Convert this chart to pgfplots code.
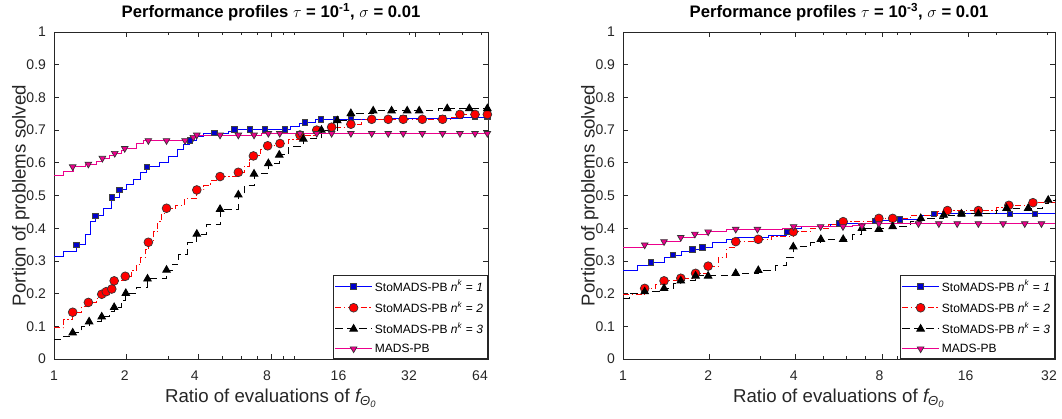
\documentclass[border=0pt]{standalone}
\usepackage{fontspec}
\setmainfont{Liberation Sans}
\usepackage{amsmath}
\usepackage{pgfplots}
\pgfplotsset{compat=1.18}

\definecolor{axgray}{rgb}{0.15,0.15,0.15}
\definecolor{sqfill}{rgb}{0,0,0.8}

% tick label nudged left by #1/2 (the labels sit a little left of their ticks)
\newcommand{\tl}[2]{\hbox to 0pt{\hss\kern#1\relax #2\hss}}

\pgfplotsset{
  serA/.style={blue, line width=0.7pt, mark=square*, mark size=2.1pt,
    mark options={solid, fill=sqfill, draw=black!75, line width=0.5pt}},
  serB/.style={red, line width=0.7pt, dash pattern=on 4.5pt off 2pt on 1pt off 2pt,
    mark=*, mark size=3.3pt, mark options={solid, fill=red, draw=black!80, line width=0.5pt}},
  serC/.style={black, line width=0.7pt, dash pattern=on 5.5pt off 3.5pt,
    mark=triangle*, mark size=3.2pt, mark options={solid, fill=black}},
  serD/.style={magenta, line width=0.7pt, mark=triangle*, mark size=2.9pt,
    mark options={solid, rotate=180, fill=magenta, draw=black!80, line width=0.5pt}},
}

\newcommand{\legs}{%
  \addlegendimage{serA}\addlegendentry{StoMADS-PB \textit{n}\textsuperscript{\textit{k}} = \textit{1}}
  \addlegendimage{serB}\addlegendentry{StoMADS-PB \textit{n}\textsuperscript{\textit{k}} = \textit{2}}
  \addlegendimage{serC}\addlegendentry{StoMADS-PB \textit{n}\textsuperscript{\textit{k}} = \textit{3}}
  \addlegendimage{serD}\addlegendentry{MADS-PB}
}

\begin{document}
\begin{tikzpicture}
\useasboundingbox (-40.5pt,-44.25pt) rectangle (756pt,269.25pt);
\pgfplotsset{
  every axis/.append style={
    scale only axis, width=325.5pt, height=245.25pt,
    xmode=log, log basis x=2,
    xmin=1, ymin=0, ymax=1,
    ytick={0,0.1,0.2,0.3,0.4,0.5,0.6,0.7,0.8,0.9,1},
    yticklabels={0,0.1,0.2,0.3,0.4,0.5,0.6,0.7,0.8,0.9,1},
    /pgf/number format/assume math mode=true,
    tick align=inside, major tick length=4pt,
    extra x tick labels={}, extra x tick style={major tick length=2.2pt},
    axis line style={axgray, line width=0.5pt},
    every tick/.style={axgray, line width=0.5pt},
    tick label style={font=\fontsize{10.5}{12}\selectfont, text=axgray},
    xticklabel style={yshift=-5.5pt},
    yticklabel style={xshift=-2.5pt},
    title style={font=\bfseries\fontsize{12.5}{14}\selectfont,
      at={(axis description cs:0.5,1)}, anchor=base, yshift=5pt},
    xlabel style={font=\fontsize{14}{16}\selectfont, text=axgray,
      at={(axis description cs:0.5,0)}, anchor=north, yshift=-18.8pt},
    ylabel style={font=\fontsize{14}{16}\selectfont, text=axgray,
      at={(axis description cs:-0.0457,0.5)}, rotate=0, anchor=south},
    xlabel={Ratio of evaluations of $\text{\itshape f}_{\text{\itshape Θ}_{\text{\itshape 0}}}$},
    ylabel={Portion of problems solved},
    legend style={at={(1,0)}, anchor=south east, draw=axgray, line width=0.5pt,
      font=\fontsize{9}{10.5}\selectfont, inner sep=1.5pt, row sep=2.2pt},
    legend cell align=left,
    legend image code/.code={\draw[mark repeat=2,mark phase=2]
      plot coordinates {(0cm,0cm) (0.48cm,0cm) (0.96cm,0cm)};},
    clip=false,
  },
}

% ---------------- left: tau = 1e-1
\begin{axis}[at={(0,0)}, anchor=south west,
  xmax=64,
  xtick={1,2,4,8,16,32,64},
  xticklabels={1,\tl{-2.4pt}{2},\tl{-6pt}{4},\tl{-6pt}{8},\tl{-7.2pt}{16},\tl{-10pt}{32},\tl{-12pt}{64}},
  extra x ticks={3,5,6,7,9,10,20,30,40,50,60},
  title={Performance profiles $\tau$ = 10$^{\textbf{-1}}$, $\sigma$ = 0.01}]
\legs
\addplot[serA, const plot, no marks, forget plot] table {
x y
1 0.315
1.1 0.33
1.24 0.349
1.35 0.38
1.42 0.42
1.49 0.438
1.6 0.46
1.74 0.494
1.87 0.517
2.0 0.535
2.15 0.55
2.3 0.57
2.43 0.588
2.75 0.6
3.0 0.62
3.25 0.64
3.45 0.655
3.68 0.668
3.9 0.68
4.2 0.69
5.3 0.697
5.63 0.702
9.6 0.71
10.5 0.72
11.08 0.724
12.3 0.733
24 0.737
50 0.74
64 0.74
};
\addplot[serA, only marks, forget plot] table {
x y
1.24 0.349
1.49 0.438
1.74 0.494
1.87 0.517
2.43 0.588
3.68 0.668
4.65 0.692
5.63 0.702
6.54 0.702
7.55 0.702
9.14 0.702
11.08 0.724
12.9 0.733
14.9 0.733
17.2 0.733
21 0.735
28.4 0.737
41.4 0.737
56.5 0.74
63.6 0.74
};
\addplot[serB, const plot, no marks, forget plot] table {
x y
1 0.096
1.1 0.12
1.196 0.143
1.3 0.16
1.39 0.173
1.5 0.185
1.58 0.198
1.65 0.206
1.74 0.214
1.78 0.239
1.98 0.253
2.1 0.27
2.2 0.29
2.3 0.31
2.4 0.335
2.47 0.357
2.6 0.39
2.7 0.42
2.8 0.445
2.94 0.461
3.2 0.47
3.5 0.49
3.93 0.517
4.2 0.53
4.5 0.545
4.91 0.558
5.85 0.571
6.2 0.59
6.5 0.61
6.76 0.621
7.2 0.64
7.75 0.652
8.72 0.659
9.5 0.672
10.56 0.685
12.4 0.700
14.3 0.709
17.2 0.718
19 0.733
45 0.74
48.9 0.748
64 0.748
};
\addplot[serB, only marks, forget plot] table {
x y
1.196 0.143
1.39 0.173
1.58 0.198
1.65 0.206
1.74 0.214
1.78 0.239
1.98 0.253
2.47 0.357
2.94 0.461
3.93 0.517
4.91 0.558
5.85 0.571
6.76 0.621
7.75 0.652
8.72 0.659
10.56 0.685
12.4 0.700
14.3 0.709
17.2 0.718
21.0 0.733
24.6 0.733
28.4 0.733
34.1 0.733
41.4 0.733
48.9 0.748
56.5 0.748
63.6 0.748
};
\addplot[serC, const plot, no marks, forget plot] table {
x y
1 0.061
1.1 0.07
1.196 0.080
1.3 0.1
1.40 0.114
1.58 0.129
1.7 0.145
1.78 0.158
1.9 0.18
1.99 0.201
2.2 0.22
2.45 0.245
2.94 0.272
3.1 0.29
3.3 0.32
3.6 0.355
3.93 0.382
4.3 0.41
4.91 0.458
5.85 0.502
6.2 0.53
6.8 0.566
7.8 0.598
8.66 0.624
9.5 0.65
10.9 0.673
12.97 0.700
15.1 0.729
17.2 0.751
21.3 0.759
40 0.766
64 0.766
};
\addplot[serC, only marks, forget plot] table {
x y
1.196 0.080
1.40 0.114
1.58 0.129
1.78 0.158
1.99 0.201
2.45 0.245
2.94 0.272
3.93 0.382
4.91 0.458
5.85 0.502
6.8 0.566
7.8 0.598
8.66 0.624
10.9 0.673
12.97 0.700
15.1 0.729
17.2 0.751
21.3 0.759
25.4 0.759
29.5 0.759
33.1 0.759
43.3 0.766
53.5 0.766
63.6 0.766
};
\addplot[serD, const plot, no marks, forget plot] table {
x y
1 0.56
1.1 0.575
1.2 0.588
1.35 0.596
1.5 0.605
1.59 0.614
1.7 0.622
1.79 0.629
1.9 0.637
1.97 0.644
2.2 0.66
2.35 0.668
3.7 0.678
3.9 0.685
7.3 0.69
64 0.69
};
\addplot[serD, only marks, forget plot] table {
x y
1.196 0.588
1.39 0.596
1.59 0.614
1.79 0.629
1.97 0.644
2.47 0.668
2.94 0.668
3.51 0.668
3.8 0.678
3.93 0.685
4.91 0.685
5.85 0.685
6.8 0.685
7.8 0.69
8.7 0.69
10.56 0.69
12.4 0.69
14.3 0.69
17.2 0.69
21.0 0.69
24.6 0.69
28.4 0.69
34.1 0.69
41.4 0.69
48.9 0.69
56.5 0.69
63.6 0.69
};
\end{axis}

% ---------------- right: tau = 1e-3
\begin{axis}[at={(426.75pt,0)}, anchor=south west,
  width=324pt,
  xmax=32,
  xtick={1,2,4,8,16,32},
  xticklabels={1,\tl{-1.8pt}{2},\tl{-3pt}{4},\tl{-4pt}{8},\tl{-4.5pt}{16},\tl{-9pt}{32}},
  extra x ticks={3,5,6,7,9,10,20,30},
  title={Performance profiles $\tau$ = 10$^{\textbf{-3}}$, $\sigma$ = 0.01}]
\legs
\addplot[serA, const plot, no marks, forget plot] table {
x y
1 0.27
1.12 0.285
1.25 0.295
1.4 0.31
1.49 0.318
1.6 0.328
1.74 0.335
1.89 0.341
2.05 0.355
2.3 0.365
2.5 0.372
3.2 0.378
3.72 0.389
3.95 0.398
4.2 0.405
5.3 0.41
5.66 0.415
7.58 0.423
9.2 0.428
11 0.438
12.1 0.444
32 0.444
};
\addplot[serA, only marks, forget plot] table {
x y
1.25 0.295
1.49 0.318
1.74 0.335
1.89 0.341
3.72 0.389
5.66 0.415
7.58 0.423
9.2 0.428
12.1 0.444
15.1 0.444
22.3 0.444
27.2 0.444
};
\addplot[serB, const plot, no marks, forget plot] table {
x y
1 0.198
1.19 0.216
1.3 0.228
1.39 0.239
1.59 0.247
1.79 0.262
1.98 0.284
2.15 0.31
2.3 0.34
2.47 0.359
2.96 0.366
3.3 0.375
3.92 0.389
4.5 0.4
5.2 0.41
5.85 0.42
7.79 0.43
10 0.44
12.5 0.45
13.5 0.454
20 0.462
22.1 0.47
26.8 0.478
32 0.478
};
\addplot[serB, only marks, forget plot] table {
x y
1.19 0.216
1.39 0.239
1.59 0.247
1.79 0.262
1.98 0.284
2.47 0.359
2.96 0.366
3.92 0.389
5.85 0.42
7.79 0.43
8.7 0.43
13.5 0.454
17.3 0.454
22.1 0.47
26.8 0.478
};
\addplot[serC, const plot, no marks, forget plot] table {
x y
1 0.186
1.05 0.2
1.19 0.206
1.39 0.216
1.5 0.23
1.59 0.239
1.79 0.254
2.47 0.262
2.96 0.271
3.4 0.285
3.7 0.31
3.92 0.343
4.5 0.355
4.89 0.366
6.3 0.38
6.8 0.40
8.7 0.405
10 0.42
10.9 0.43
13.1 0.44
15.1 0.444
20 0.455
21.7 0.461
29 0.475
30.3 0.486
32 0.49
};
\addplot[serC, only marks, forget plot] table {
x y
1.19 0.206
1.39 0.216
1.59 0.239
1.79 0.254
1.98 0.254
2.47 0.262
2.96 0.271
3.92 0.343
4.89 0.366
5.85 0.366
6.8 0.40
7.79 0.397
8.7 0.405
10.9 0.43
13.1 0.44
15.1 0.444
17.3 0.444
21.7 0.461
25.8 0.461
30.3 0.486
};
\addplot[serD, const plot, no marks, forget plot] table {
x y
1 0.342
1.19 0.349
1.39 0.359
1.59 0.372
1.78 0.382
1.98 0.389
2.3 0.397
3.6 0.4
3.93 0.405
6.3 0.407
6.6 0.414
32 0.414
};
\addplot[serD, only marks, forget plot] table {
x y
1.19 0.349
1.39 0.359
1.59 0.372
1.78 0.382
1.98 0.389
2.47 0.397
2.94 0.397
3.93 0.405
4.88 0.405
5.84 0.405
6.8 0.407
7.79 0.414
10.7 0.414
12.6 0.414
14.6 0.414
17.3 0.414
21.1 0.414
25.1 0.414
28.7 0.414
};
\end{axis}
\end{tikzpicture}
\end{document}
